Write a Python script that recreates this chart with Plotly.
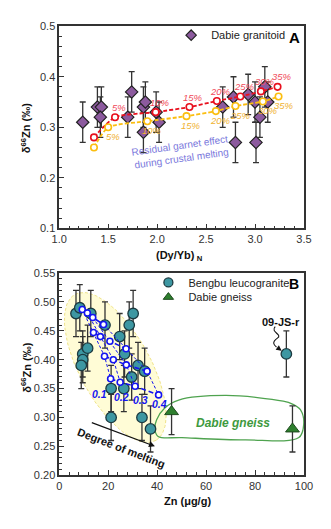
import numpy as np
import plotly.graph_objects as go

W, H = 331, 529

# ---------------- Panel A: Dabie granitoid ----------------
dg_dyyb = [1.24, 1.39, 1.43, 1.42, 1.70, 1.74, 1.86, 1.88, 1.86, 1.99,
           2.02, 2.67, 2.78, 2.80, 2.93, 3.00, 3.01, 3.05, 3.10, 3.13]
dg_zn = [0.31, 0.34, 0.34, 0.32, 0.32, 0.37, 0.34, 0.35, 0.29, 0.33,
         0.31, 0.34, 0.36, 0.27, 0.365, 0.35, 0.27, 0.32, 0.38, 0.35]
dg_err = [0.04] * len(dg_zn)

# residual-garnet melting models (degree of melting labels)
melt_labels = ["", "5%", "10%", "15%", "20%", "25%", "30%", "35%"]
red_dyyb = [1.355, 1.57, 1.985, 2.33, 2.61, 2.85, 3.06, 3.23]
red_zn = [0.28, 0.32, 0.33, 0.34, 0.352, 0.361, 0.371, 0.38]
orange_dyyb = [1.355, 1.50, 1.90, 2.30, 2.60, 2.80, 3.08, 3.24]
orange_zn = [0.26, 0.30, 0.312, 0.322, 0.332, 0.342, 0.351, 0.361]

# ---------------- Panel B: Bengbu leucogranite / Dabie gneiss ----------------
bb_zn = [6.85, 8.4, 12.9, 18.7, 24.7, 28.6, 30.2, 9.6, 11.6, 9.6, 9.0,
         26.7, 32.2, 34.9, 29.6, 21.2, 26.4, 21.2, 33.8, 37.3, 92.8]
bb_d66 = [0.48, 0.49, 0.48, 0.46, 0.44, 0.46, 0.48, 0.41, 0.42, 0.40, 0.39,
          0.41, 0.39, 0.38, 0.37, 0.35, 0.35, 0.30, 0.30, 0.28, 0.41]
bb_err = [0.04] * len(bb_d66)

gn_zn = [45.9, 95.3]
gn_d66 = [0.31, 0.28]
gn_err = [0.04, 0.04]

# melting model grid: rows = degree of melting, columns = model parameter
model_params = ["0.1", "0.2", "0.3", "0.4"]
model_zn = [[9.4, 11.5, 13.7, 18.1],
            [14.0, 16.8, 20.7, 27.3],
            [18.5, 22.1, 27.4, 35.9],
            [21.0, 24.9, 31.0, 40.6]]
model_d66 = [[0.487, 0.481, 0.473, 0.461],
             [0.447, 0.440, 0.432, 0.419],
             [0.406, 0.400, 0.391, 0.380],
             [0.367, 0.361, 0.354, 0.339]]
param_label_zn = [16.5, 25.6, 33.3, 41.0]
param_label_d66 = [0.341, 0.336, 0.331, 0.323]

# outline of the Dabie gneiss field
gneiss_field_zn = [76.0, 97.9, 99.9, 98.6, 95.3, 91.5, 68.2, 48.8, 43.0,
                   39.8, 39.1, 40.4, 50.1, 76.0]
gneiss_field_d66 = [0.261, 0.265, 0.288, 0.313, 0.323, 0.328, 0.338, 0.330,
                    0.316, 0.296, 0.279, 0.267, 0.265, 0.261]

# ---------------- colours ----------------
PURPLE = "#8C5A9E"
TEAL = "#3D97A2"
GREEN = "#2E7F2E"
RED = "#E8101E"
RED_TXT = "#F04A5A"
ORANGE = "#FBBE10"
ORANGE_TXT = "#F0B232"
BLUE = "#1414F0"
ERR = "#333333"

DIAMOND = dict(symbol="diamond", size=9.5, color=PURPLE, line=dict(color="#222222", width=1.2))
CIRCLE = dict(symbol="circle", size=10.5, color=TEAL, line=dict(color="#1C3A40", width=1.3))
TRIANGLE = dict(symbol="triangle-up", size=12, color=GREEN, line=dict(color="#1E4A1E", width=1))

fig = go.Figure()

# ---- Panel A traces ----
fig.add_trace(go.Scatter(
    x=dg_dyyb, y=dg_zn, mode="markers", name="Dabie granitoid", showlegend=False,
    marker=DIAMOND,
    error_y=dict(type="data", array=dg_err, color=ERR, thickness=1.3, width=3),
    xaxis="x", yaxis="y"))

for xs, ys, col in [(red_dyyb, red_zn, RED), (orange_dyyb, orange_zn, ORANGE)]:
    fig.add_trace(go.Scatter(
        x=xs, y=ys, mode="lines+markers", showlegend=False,
        line=dict(color=col, width=1.8, dash="4px,2px", shape="spline", smoothing=0.6),
        marker=dict(symbol="circle", size=6.5, color="white",
                    line=dict(color=col, width=1.6)),
        xaxis="x", yaxis="y"))

# ---- Panel B traces ----
# yellow field around the melting model
theta = np.linspace(0, 2 * np.pi, 120)
cx, cy = 22.9, 0.3864
a_px, b_px, ang = 86, 37, np.deg2rad(60)
sx, sy = 258 / 100.0, 206.7 / 0.35
u, v = a_px * np.cos(theta), b_px * np.sin(theta)
ell_x = cx + (u * np.cos(ang) - v * np.sin(ang)) / sx
ell_y = cy - (u * np.sin(ang) + v * np.cos(ang)) / sy
fig.add_trace(go.Scatter(
    x=ell_x, y=ell_y, mode="lines", fill="toself", fillcolor="rgba(255,251,196,0.7)",
    line=dict(color="#EFE38A", width=1, dash="3px,2px"), showlegend=False,
    hoverinfo="skip", xaxis="x2", yaxis="y2"))

fig.add_trace(go.Scatter(
    x=gneiss_field_zn, y=gneiss_field_d66, mode="lines", showlegend=False,
    line=dict(color="#4FA34F", width=1.3, shape="spline", smoothing=1.0),
    hoverinfo="skip", xaxis="x2", yaxis="y2"))

fig.add_trace(go.Scatter(
    x=bb_zn, y=bb_d66, mode="markers", name="Bengbu leucogranite", showlegend=False,
    marker=CIRCLE,
    error_y=dict(type="data", array=bb_err, color=ERR, thickness=1.3, width=3),
    xaxis="x2", yaxis="y2"))

fig.add_trace(go.Scatter(
    x=gn_zn, y=gn_d66, mode="markers", name="Dabie gneiss", showlegend=False,
    marker=TRIANGLE,
    error_y=dict(type="data", array=gn_err, color=ERR, thickness=1.3, width=3),
    xaxis="x2", yaxis="y2"))

# model columns (thin dashed)
for j in range(4):
    fig.add_trace(go.Scatter(
        x=[row[j] for row in model_zn], y=[row[j] for row in model_d66],
        mode="lines", showlegend=False,
        line=dict(color=BLUE, width=1, dash="3px,2px"),
        xaxis="x2", yaxis="y2"))
# model rows
for i in range(4):
    fig.add_trace(go.Scatter(
        x=model_zn[i], y=model_d66[i], mode="lines+markers", showlegend=False,
        line=dict(color=BLUE, width=1.6, dash="solid" if i == 0 else "5px,3px"),
        marker=dict(symbol="circle", size=6, color="white",
                    line=dict(color=BLUE, width=1.6)),
        xaxis="x2", yaxis="y2"))

# legend keys (one legend box per entry, compact markers)
for name, mk, lg, ax, ay in [("Dabie granitoid", dict(DIAMOND, size=8), "legend", "x", "y"),
                             ("Bengbu leucogranite", dict(CIRCLE, size=9), "legend2", "x2", "y2"),
                             ("Dabie gneiss", dict(TRIANGLE, size=9), "legend3", "x2", "y2")]:
    fig.add_trace(go.Scatter(x=[None], y=[None], mode="markers", name=name, marker=mk,
                             legend=lg, xaxis=ax, yaxis=ay))

# ---------------- layout ----------------
xdom = [54 / W, 312 / W]
ydomA = [1 - 227.5 / H, 1 - 20.7 / H]
ydomB = [1 - 480 / H, 1 - 273.3 / H]
tickfont = dict(family="Arial", size=11, color="#333333")
axcommon = dict(showline=True, linecolor="#333333", linewidth=1.5, mirror=True,
                ticks="inside", ticklen=5, tickwidth=1.2, tickcolor="#333333",
                showgrid=False, zeroline=False, tickfont=tickfont, fixedrange=True)
legfont = dict(family="Arial", size=11, color="#222222")

fig.update_layout(
    width=W, height=H, margin=dict(l=0, r=0, t=0, b=0),
    paper_bgcolor="white", plot_bgcolor="white",
    font=dict(family="Arial", color="#222222"),
    xaxis=dict(domain=xdom, anchor="y", range=[1.0, 3.5], dtick=0.5, tickformat=".1f",
               minor=dict(dtick=0.1, ticks="inside", ticklen=3, tickcolor="#333333"),
               **axcommon),
    yaxis=dict(domain=ydomA, anchor="x", range=[0.1, 0.5], dtick=0.1, tickformat=".1f",
               minor=dict(dtick=0.02, ticks="inside", ticklen=3, tickcolor="#333333"),
               **axcommon),
    xaxis2=dict(domain=xdom, anchor="y2", range=[0, 100], dtick=20,
                minor=dict(dtick=4, ticks="inside", ticklen=3, tickcolor="#333333"),
                **axcommon),
    yaxis2=dict(domain=ydomB, anchor="x2", range=[0.2, 0.55], dtick=0.05, tickformat=".2f",
                minor=dict(dtick=0.01, ticks="inside", ticklen=3, tickcolor="#333333"),
                **axcommon),
    legend=dict(x=172 / W, y=1 - 15 / H, xanchor="left", yanchor="top",
                bgcolor="rgba(0,0,0,0)", font=legfont, itemwidth=30),
    legend2=dict(x=148 / W, y=1 - 268 / H, xanchor="left", yanchor="top",
                 bgcolor="rgba(0,0,0,0)", font=legfont, itemwidth=30),
    legend3=dict(x=148 / W, y=1 - 283 / H, xanchor="left", yanchor="top",
                 bgcolor="rgba(0,0,0,0)", font=legfont, itemwidth=30),
)

ann = []

def paper_text(text, px, py, size=11, angle=0, bold=True, color="#111111"):
    t = f"<b>{text}</b>" if bold else text
    ann.append(dict(text=t, x=px / W, y=1 - py / H, xref="paper", yref="paper",
                    showarrow=False, textangle=angle, xanchor="center", yanchor="middle",
                    font=dict(family="Arial", size=size, color=color)))

# axis titles and panel letters
paper_text("δ<sup>66</sup>Zn (‰)", 19, 125, angle=-90)
paper_text("δ<sup>66</sup>Zn (‰)", 19, 370, angle=-90)
paper_text("(Dy/Yb)<sub> N</sub>", 181, 256)
paper_text("Zn (μg/g)", 189, 507)
paper_text("A", 302, 32, size=15, color="#000000")
paper_text("B", 302, 284, size=14, color="#000000")

# melting-degree labels on the garnet models
for i in range(1, len(melt_labels)):
    ann.append(dict(text=f"<i>{melt_labels[i]}</i>", x=red_dyyb[i], y=red_zn[i],
                    xref="x", yref="y", showarrow=False, xshift=4, yshift=10,
                    font=dict(family="Arial", size=9.5, color=RED_TXT)))
    ann.append(dict(text=f"<i>{melt_labels[i]}</i>", x=orange_dyyb[i], y=orange_zn[i],
                    xref="x", yref="y", showarrow=False, xshift=5, yshift=-9,
                    font=dict(family="Arial", size=9.5, color=ORANGE_TXT)))

ann.append(dict(text="Residual garnet effect<br>during crustal melting", x=2.24, y=0.252,
                xref="x", yref="y", showarrow=False, textangle=-8,
                font=dict(family="Arial", size=10, color="#7A78DC")))

# panel B labels
for lab, lx, ly in zip(model_params, param_label_zn, param_label_d66):
    ann.append(dict(text=f"<b><i>{lab}</i></b>", x=lx, y=ly, xref="x2", yref="y2",
                    showarrow=False, font=dict(family="Arial", size=10.5, color=BLUE)))

ann.append(dict(text="<b><i>Dabie gneiss</i></b>", x=70.8, y=0.2898, xref="x2", yref="y2",
                showarrow=False, font=dict(family="Arial", size=12, color="#3E9A3E")))
ann.append(dict(text="<b>09-JS-r</b>", x=90.8, y=0.4656, xref="x2", yref="y2",
                showarrow=False, font=dict(family="Arial", size=11, color="#111111")))
ann.append(dict(text="", x=90.89, y=0.4153, ax=88.76, ay=0.4220, xref="x2", yref="y2",
                axref="x2", ayref="y2", showarrow=True, arrowhead=2, arrowsize=1,
                arrowwidth=1.1, arrowcolor="#111111"))

# degree of melting arrow
ann.append(dict(text="", x=39.1, y=0.250, ax=12.7, ay=0.292, xref="x2", yref="y2",
                axref="x2", ayref="y2", showarrow=True, arrowhead=2, arrowsize=1,
                arrowwidth=1.2, arrowcolor="#111111"))
ann.append(dict(text="<b>Degree of melting</b>", x=25.4, y=0.2475, xref="x2", yref="y2",
                showarrow=False, textangle=21,
                font=dict(family="Arial", size=11, color="#111111")))

fig.update_layout(annotations=ann)

# wavy leader from the 09-JS-r label
fig.add_shape(type="path", xref="x2", yref="y2",
              path="M 88.26,0.4571 C 86.05,0.4475 91.47,0.4441 89.15,0.4373 "
                   "C 86.82,0.4305 87.60,0.4254 88.76,0.4220",
              line=dict(color="#111111", width=1.1))

fig.write_html("out.html")
